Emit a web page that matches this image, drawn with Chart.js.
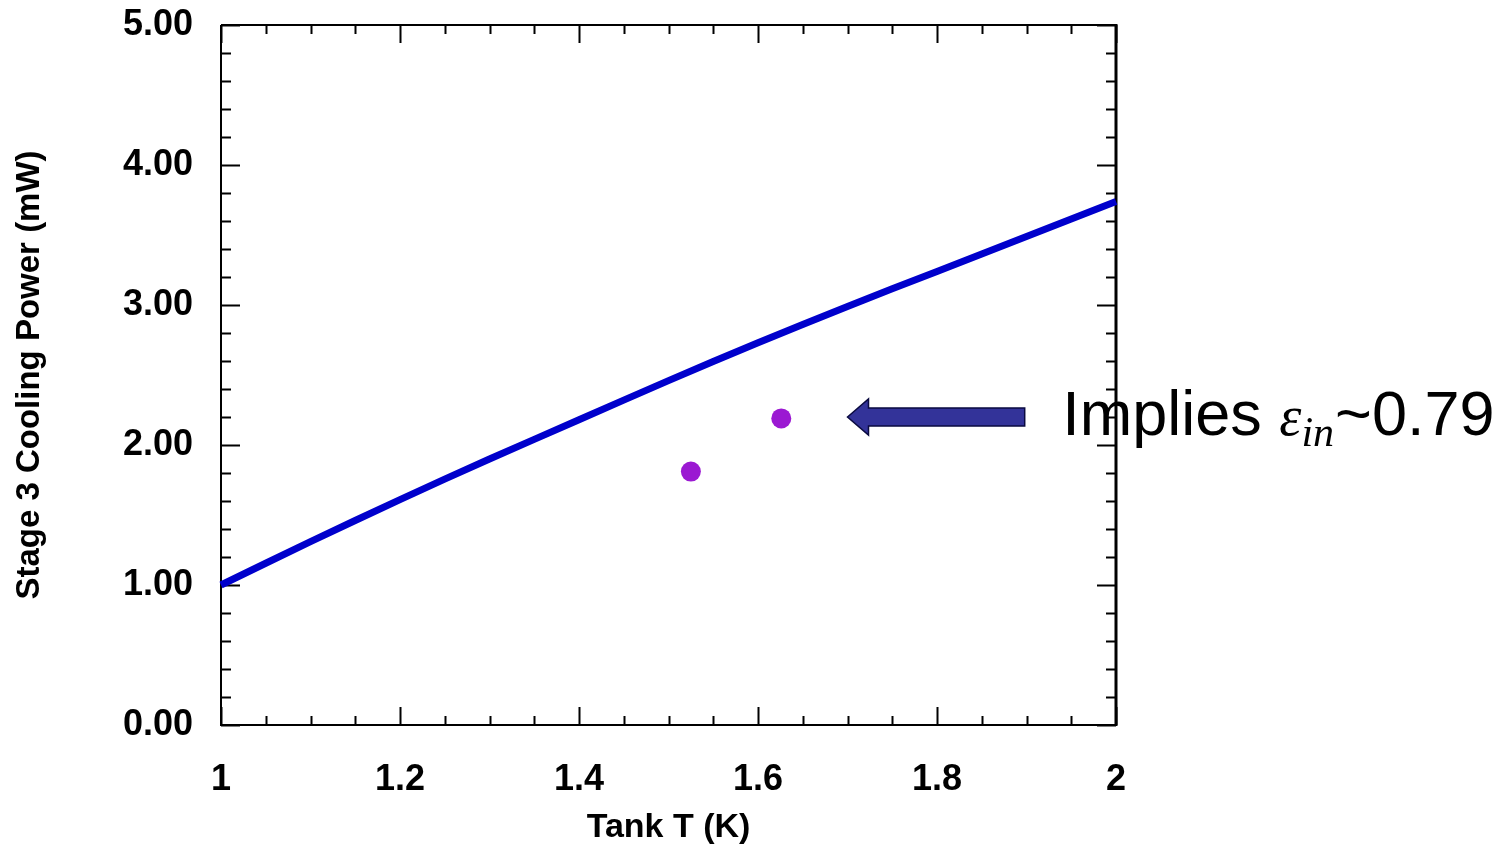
<!DOCTYPE html>
<html>
<head>
<meta charset="utf-8">
<script src="https://cdn.jsdelivr.net/npm/chart.js@4"></script>
<style>
  body { margin: 0; background: #fff; }
  #wrap { width: 1512px; height: 848px; }
</style>
</head>
<body>
<div id="wrap"><canvas id="chart" width="1512" height="848"></canvas></div>
<script>
// Curve: stage 3 cooling power vs tank temperature
const tankT = [1.0, 1.1, 1.2, 1.3, 1.4, 1.5, 1.6, 1.7, 1.8, 1.9, 2.0];
const coolingPower = [1.00, 1.31, 1.61, 1.90, 2.18, 2.46, 2.73, 2.99, 3.24, 3.49, 3.74];

// Measured points
const measuredT = [1.525, 1.626];
const measuredPower = [1.81, 2.19];

// Axis ticks
const xMajorTicks = [1, 1.2, 1.4, 1.6, 1.8, 2];
const yMajorTicks = [0, 1, 2, 3, 4, 5];

const annotationText = { before: 'Implies ', symbol: 'ε', sub: 'in', after: '~0.79' };

// Draw the box frame with inward ticks on all four sides
const framePlugin = {
  id: 'frame',
  beforeDatasetsDraw(chart) {
    const ctx = chart.ctx;
    const area = chart.chartArea;
    const xs = chart.scales.x;
    const ys = chart.scales.y;
    ctx.save();
    ctx.strokeStyle = '#000';
    ctx.lineWidth = 2;

    // x ticks every 0.05, major every 0.2
    for (let i = 0; i <= 20; i++) {
      const px = Math.round(xs.getPixelForValue(1 + i * 0.05)) + 0.5;
      const len = i % 4 === 0 ? 18 : 9;
      ctx.beginPath();
      ctx.moveTo(px, area.bottom);
      ctx.lineTo(px, area.bottom - len);
      ctx.moveTo(px, area.top);
      ctx.lineTo(px, area.top + len);
      ctx.stroke();
    }
    // y ticks every 0.2, major every 1
    for (let i = 0; i <= 25; i++) {
      const py = Math.round(ys.getPixelForValue(i * 0.2)) + 0.5;
      const len = i % 5 === 0 ? 19 : 10;
      ctx.beginPath();
      ctx.moveTo(area.left, py);
      ctx.lineTo(area.left + len, py);
      ctx.moveTo(area.right, py);
      ctx.lineTo(area.right - len, py);
      ctx.stroke();
    }

    ctx.beginPath();
    ctx.moveTo(area.left, area.top);
    ctx.lineTo(area.right, area.top);
    ctx.moveTo(area.left, area.top);
    ctx.lineTo(area.left, area.bottom);
    ctx.lineTo(area.right, area.bottom);
    ctx.stroke();
    ctx.lineWidth = 3;
    ctx.beginPath();
    ctx.moveTo(area.right, area.top - 1);
    ctx.lineTo(area.right, area.bottom + 1);
    ctx.stroke();
    ctx.restore();
  }
};

// Arrow and "Implies ε_in~0.79" note next to the upper measured point
const notePlugin = {
  id: 'note',
  afterDraw(chart) {
    const ctx = chart.ctx;
    const xs = chart.scales.x;
    const ys = chart.scales.y;
    const tipX = xs.getPixelForValue(1.70);
    const tailX = xs.getPixelForValue(1.898);
    const cy = ys.getPixelForValue(2.2);

    ctx.save();
    ctx.fillStyle = '#333399';
    ctx.strokeStyle = '#0a0a40';
    ctx.lineWidth = 1.5;
    ctx.beginPath();
    ctx.moveTo(tipX, cy);
    ctx.lineTo(tipX + 21, cy - 18);
    ctx.lineTo(tipX + 21, cy - 9);
    ctx.lineTo(tailX, cy - 9);
    ctx.lineTo(tailX, cy + 9);
    ctx.lineTo(tipX + 21, cy + 9);
    ctx.lineTo(tipX + 21, cy + 18);
    ctx.closePath();
    ctx.fill();
    ctx.stroke();

    let x = xs.getPixelForValue(1.94);
    const base = cy + 18;
    ctx.fillStyle = '#000';
    ctx.textBaseline = 'alphabetic';
    ctx.textAlign = 'left';
    ctx.font = '63px "Liberation Sans", Arial, sans-serif';
    ctx.fillText(annotationText.before, x, base);
    x += ctx.measureText(annotationText.before).width;
    ctx.font = 'italic 56px "Liberation Serif", "Times New Roman", serif';
    ctx.fillText(annotationText.symbol, x, base);
    x += ctx.measureText(annotationText.symbol).width;
    ctx.font = 'italic 42px "Liberation Serif", "Times New Roman", serif';
    ctx.fillText(annotationText.sub, x, base + 11);
    x += ctx.measureText(annotationText.sub).width + 1;
    ctx.font = '63px "Liberation Sans", Arial, sans-serif';
    ctx.fillText(annotationText.after, x, base);
    ctx.restore();
  }
};

const tickFont = { family: '"Liberation Sans", Arial, sans-serif', size: 36, weight: 'bold' };
const titleFont = { family: '"Liberation Sans", Arial, sans-serif', size: 34, weight: 'bold' };

new Chart(document.getElementById('chart'), {
  type: 'scatter',
  data: {
    datasets: [
      {
        type: 'line',
        data: tankT.map((t, i) => ({ x: t, y: coolingPower[i] })),
        borderColor: '#0000cc',
        borderWidth: 7,
        pointRadius: 0,
        tension: 0.3,
        fill: false,
        clip: false
      },
      {
        data: measuredT.map((t, i) => ({ x: t, y: measuredPower[i] })),
        backgroundColor: '#9b19d2',
        borderColor: '#9b19d2',
        borderWidth: 0,
        pointRadius: 10
      }
    ]
  },
  options: {
    responsive: false,
    animation: false,
    layout: { padding: { top: 25, right: 396, left: 0, bottom: 0 } },
    plugins: {
      legend: { display: false },
      tooltip: { enabled: false }
    },
    scales: {
      x: {
        type: 'linear',
        min: 1,
        max: 2,
        afterBuildTicks(scale) {
          scale.ticks = xMajorTicks.map(v => ({ value: v }));
        },
        afterFit(scale) {
          scale.height = 123;
          scale.paddingLeft = 0;
          scale.paddingRight = 0;
        },
        grid: { display: false, drawTicks: false },
        border: { display: false },
        ticks: {
          color: '#000',
          font: tickFont,
          padding: 33,
          maxRotation: 0,
          callback: v => String(v)
        },
        title: {
          display: true,
          text: 'Tank T (K)',
          color: '#000',
          font: titleFont,
          padding: { top: 0, bottom: 0 }
        }
      },
      y: {
        type: 'linear',
        min: 0,
        max: 5,
        afterBuildTicks(scale) {
          scale.ticks = yMajorTicks.map(v => ({ value: v }));
        },
        afterFit(scale) {
          scale.width = 221;
          scale.paddingTop = 0;
          scale.paddingBottom = 0;
        },
        grid: { display: false, drawTicks: false },
        border: { display: false },
        ticks: {
          color: '#000',
          font: tickFont,
          padding: 28,
          callback: v => Number(v).toFixed(2)
        },
        title: {
          display: true,
          text: 'Stage 3 Cooling Power (mW)',
          color: '#000',
          font: { family: '"Liberation Sans", Arial, sans-serif', size: 33, weight: 'bold' },
          padding: { top: 10, bottom: 0 }
        }
      }
    }
  },
  plugins: [framePlugin, notePlugin]
});
</script>
</body>
</html>
